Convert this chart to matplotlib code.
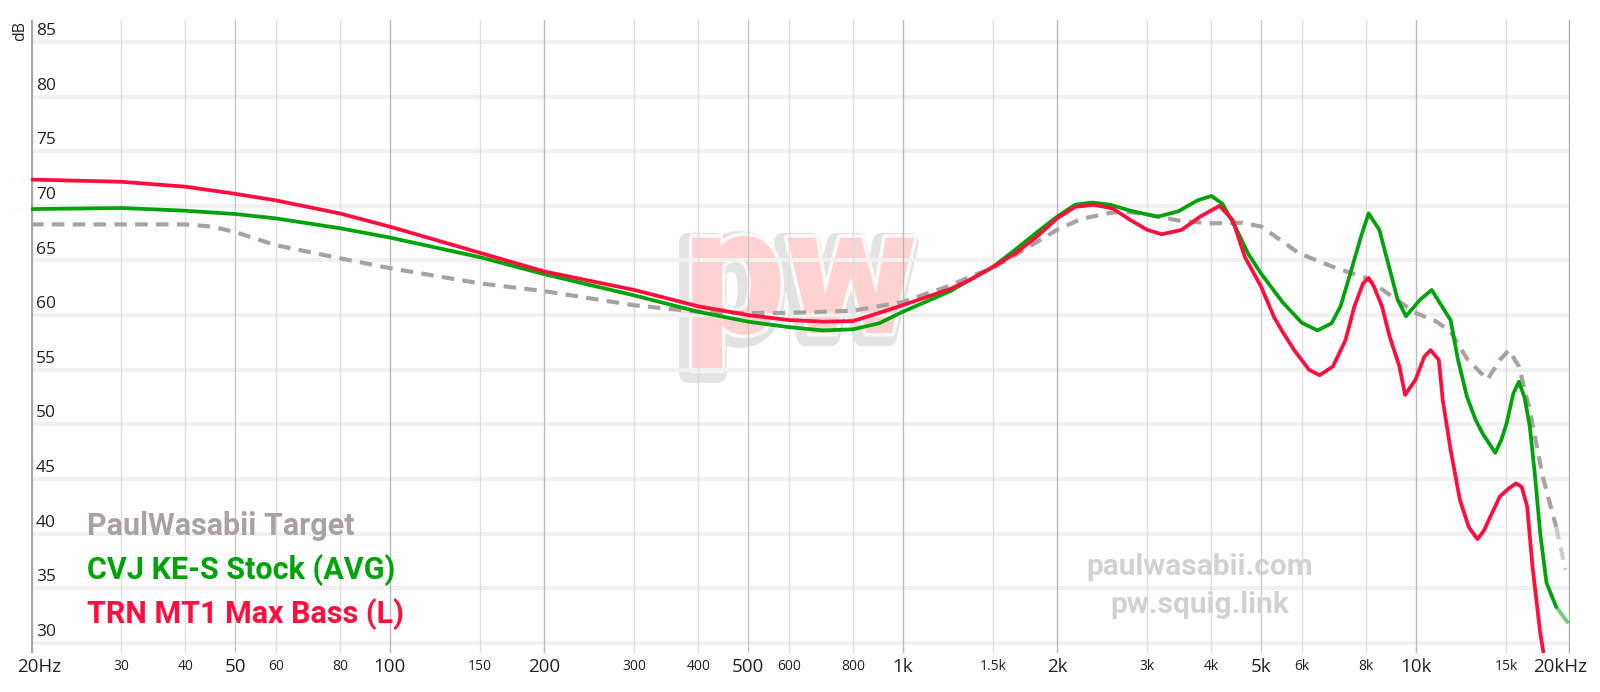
import matplotlib
matplotlib.use("Agg")
import matplotlib.pyplot as plt
import matplotlib.patheffects as pe
import matplotlib.transforms as mtransforms
from matplotlib.collections import LineCollection
from matplotlib.ticker import NullLocator

# ---------------- data ----------------
target_name = "PaulWasabii Target"
target_freq = [20, 30, 40, 45, 50, 60, 80, 100, 150, 200, 300, 400, 500, 600, 800, 1000,
               1240, 1350, 1500, 1660, 1830, 2000, 2230, 2500, 2700, 3000, 3500, 4000, 4600,
               5000, 5400, 5930, 7000, 8000, 9000, 10000, 10900, 11700, 12600, 13800, 14600,
               15200, 15900, 16700, 17700, 18800, 19600]
target_db = [68.3, 68.3, 68.3, 68.1, 67.6, 66.4, 65.2, 64.3, 62.9, 62.2, 60.9, 60.3, 60.2,
             60.2, 60.4, 61.2, 62.7, 63.5, 64.3, 65.5, 66.7, 67.8, 68.8, 69.3, 69.5, 69.2,
             68.6, 68.4, 68.45, 68.1, 67.0, 65.65, 64.3, 63.4, 61.7, 60.2, 59.5, 58.5, 56.0,
             54.1, 55.9, 56.8, 55.3, 51.3, 45.2, 40.6, 36.7]

cvj_name = "CVJ KE-S Stock (AVG)"
cvj_freq = [20, 30, 40, 50, 60, 80, 100, 150, 200, 300, 400, 500, 600, 700, 800, 900, 1000,
            1240, 1350, 1500, 1660, 1830, 2000, 2170, 2340, 2540, 2780, 3140, 3450, 3760,
            4000, 4200, 4450, 4720, 5000, 5500, 6000, 6440, 6860, 7140, 7460, 7830, 8100,
            8500, 8880, 9230, 9580, 10200, 10750, 11700, 12100, 12600, 13100, 13500, 14300,
            14700, 15050, 15500, 15900, 16300, 16700, 17100, 17500, 18000, 18800, 19850]
cvj_db = [69.7, 69.8, 69.55, 69.25, 68.85, 67.95, 67.1, 65.3, 63.75, 61.8, 60.3, 59.4, 58.9,
          58.6, 58.7, 59.25, 60.3, 62.2, 63.2, 64.4, 66.0, 67.6, 69.0, 70.1, 70.3, 70.1,
          69.55, 69.0, 69.5, 70.5, 70.9, 70.2, 68.1, 65.6, 63.8, 61.2, 59.3, 58.6, 59.25,
          60.8, 63.8, 67.2, 69.3, 67.8, 64.4, 61.4, 59.9, 61.4, 62.3, 59.55, 55.9, 52.5,
          50.4, 49.2, 47.4, 48.6, 50.1, 52.8, 53.9, 52.5, 49.8, 45.2, 40.0, 35.5, 33.3, 31.8]

trn_name = "TRN MT1 Max Bass (L)"
trn_freq = [20, 30, 40, 50, 60, 80, 100, 150, 200, 300, 400, 500, 600, 700, 800, 900, 1000,
            1240, 1350, 1500, 1660, 1830, 2000, 2170, 2360, 2570, 2780, 3000, 3200, 3500,
            3800, 4150, 4400, 4650, 5000, 5300, 5500, 5800, 6200, 6500, 6900, 7300, 7600,
            7900, 8100, 8300, 8600, 8900, 9300, 9540, 10000, 10400, 10700, 11100, 11300,
            11700, 12200, 12700, 13200, 13600, 14000, 14600, 15200, 15700, 16100, 16500,
            16900, 17500, 17800]
trn_db = [72.4, 72.2, 71.75, 71.1, 70.5, 69.3, 68.1, 65.7, 64.0, 62.3, 60.8, 60.0, 59.55,
          59.4, 59.45, 60.2, 60.9, 62.4, 63.2, 64.4, 65.65, 67.2, 68.85, 69.9, 70.1, 69.75,
          68.7, 67.8, 67.4, 67.8, 69.0, 70.0, 68.7, 65.3, 62.6, 59.8, 58.5, 56.8, 55.0, 54.5,
          55.3, 57.7, 60.8, 62.9, 63.4, 62.6, 60.8, 58.05, 55.3, 52.7, 54.1, 56.2, 56.8,
          55.9, 52.2, 47.7, 43.1, 40.6, 39.5, 40.3, 41.6, 43.4, 44.15, 44.6, 44.3, 42.5,
          37.0, 30.9, 28.8]

y_ticks = [30, 35, 40, 45, 50, 55, 60, 65, 70, 75, 80, 85]
x_major = [20, 50, 100, 200, 500, 1000, 2000, 5000, 10000, 20000]
x_major_labels = ["20Hz", "50", "100", "200", "500", "1k", "2k", "5k", "10k", "20kHz"]
x_minor = [30, 40, 60, 80, 150, 300, 400, 600, 800, 1500, 3000, 4000, 6000, 8000, 15000]
x_minor_labels = ["30", "40", "60", "80", "150", "300", "400", "600", "800", "1.5k",
                  "3k", "4k", "6k", "8k", "15k"]

# ---------------- style ----------------
C_TARGET = "#aaa2a0"
C_CVJ = "#00a30a"
C_TRN = "#ff0d3d"
W, H = 1600, 692
TICK_FONT = "Open Sans"
LEG_FONT = "Roboto"

fig = plt.figure(figsize=(W / 100, H / 100), dpi=100)
fig.patch.set_facecolor("white")
ax = fig.add_axes([31 / W, (H - 653) / H, (1570 - 31) / W, (653 - 20) / H])
ax.set_xscale("log")
ax.set_xlim(20, 20000)
ax.set_ylim(29.085, 87.0)
for s in ax.spines.values():
    s.set_visible(False)
ax.xaxis.set_major_locator(NullLocator())
ax.xaxis.set_minor_locator(NullLocator())
ax.yaxis.set_major_locator(NullLocator())
ax.yaxis.set_minor_locator(NullLocator())

# watermark logo (behind everything in the axes)
ax.text(800 / W, 1 - 333 / H, "pw", transform=fig.transFigure, fontsize=130,
        fontfamily=LEG_FONT, fontweight="black", color="#ffd2d2", ha="center",
        va="baseline", zorder=0.1,
        path_effects=[pe.withStroke(linewidth=13, foreground="#e3e3e3", offset=(-3, -3)),
                      pe.withStroke(linewidth=5, foreground="#fafafa")])

# horizontal grid
for v in y_ticks:
    ax.axhline(v, color="#f1f1f1", lw=2.8, zorder=0.3)

# vertical grid
dark = {100, 200, 1000, 2000, 10000}
medium = {50, 500, 5000}
for f in x_major + x_minor:
    if f in (20, 20000):
        continue
    if f in dark:
        col = "#b4b4b4"
    elif f in medium:
        col = "#c4c4c4"
    else:
        col = "#dcdcdc"
    ax.axvline(f, color=col, lw=1.0, zorder=0.5, alpha=0.9)
ax.axvline(20, color="#a8a8a8", lw=2.4, zorder=0.6)
ax.axvline(20000, color="#a8a8a8", lw=2.4, zorder=0.6)

fig.text(1200 / W, 1 - 575 / H, "paulwasabii.com", fontsize=21.5, fontfamily=LEG_FONT,
         fontweight="bold", color="#d2d2d2", ha="center", va="baseline")
fig.text(1200 / W, 1 - 613 / H, "pw.squig.link", fontsize=21.5, fontfamily=LEG_FONT,
         fontweight="bold", color="#d2d2d2", ha="center", va="baseline")


def draw_curve(freq, db, color, lw, fade_from=None, dashed=False, z=3):
    n = len(freq)
    k = n
    if fade_from is not None:
        k = next(i for i, f in enumerate(freq) if f >= fade_from) + 1
    kw = dict(color=color, lw=lw, zorder=z, solid_capstyle="round",
              solid_joinstyle="round")
    if dashed:
        kw.update(ls=(0, (3.0, 2.0)), dash_capstyle="butt")
    ax.plot(freq[:k], db[:k], **kw)
    if k < n:
        segs = [[(freq[i], db[i]), (freq[i + 1], db[i + 1])] for i in range(k - 1, n - 1)]
        m = len(segs)
        alphas = [0.55 - 0.3 * i / max(m - 1, 1) for i in range(m)]
        lc = LineCollection(segs, colors=[matplotlib.colors.to_rgba(color, a) for a in alphas],
                            linewidths=lw, zorder=z,
                            linestyles=[(0, (3.0, 2.0))] if dashed else "solid")
        ax.add_collection(lc)


draw_curve(target_freq, target_db, C_TARGET, 3.0, fade_from=18800, dashed=True, z=2)
draw_curve(cvj_freq, cvj_db, C_CVJ, 2.7, fade_from=18800, z=3)
draw_curve(trn_freq, trn_db, C_TRN, 2.7, z=4)

# y tick labels
for v in y_ticks:
    ax.text((36 - 31) / (1570 - 31), v + 1.0, str(v), transform=ax.get_yaxis_transform(),
            ha="left", va="center", fontsize=12.5, fontfamily=TICK_FONT, color="#222222")

# x tick labels
xtrans = mtransforms.blended_transform_factory(ax.transData, ax.transAxes)
ylab = -(667 - 653) / (653 - 20)
for f, lab in zip(x_major, x_major_labels):
    dx = 8 if f == 20 else (-10 if f == 20000 else 0)
    tr = mtransforms.offset_copy(xtrans, fig=fig, x=dx, y=0, units="dots")
    ax.text(f, ylab, lab, transform=tr, ha="center", va="center", fontsize=13.5,
            fontfamily=TICK_FONT, color="#222222", clip_on=False)
for f, lab in zip(x_minor, x_minor_labels):
    ax.text(f, ylab, lab, transform=xtrans, ha="center", va="center", fontsize=10,
            fontfamily=TICK_FONT, color="#222222", clip_on=False)

fig.text(20 / W, 1 - 31 / H, "dB", rotation=90, ha="center", va="center", fontsize=11.5,
         fontfamily=TICK_FONT, color="#222222")

# legend
for name, col, base in [(target_name, C_TARGET, 535), (cvj_name, C_CVJ, 579),
                        (trn_name, C_TRN, 623)]:
    fig.text(87 / W, 1 - base / H, name, fontsize=22, fontfamily=LEG_FONT, fontweight="bold",
             color=col, ha="left", va="baseline", zorder=5)

fig.savefig("out.png", dpi=100, facecolor="white")
